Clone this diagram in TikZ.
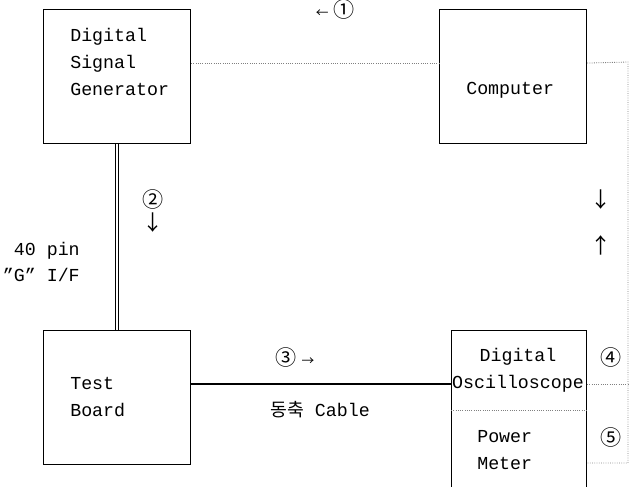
\documentclass[tikz,border=0pt]{standalone}
\usepackage{fontspec}
\setmonofont{Liberation Mono}
\newfontfamily\krfont{Noto Sans CJK KR}
\usetikzlibrary{calc,positioning}
\tikzset{
  unit/.style={draw,line width=0.8pt,minimum width=3.675cm,minimum height=3.35cm,inner sep=0pt,anchor=north west},
  lbl/.style={font=\ttfamily\fontsize{13}{19}\selectfont,inner sep=0pt,anchor=west,align=left},
  sym/.style={font=\krfont\fontsize{15}{16}\selectfont,inner sep=0pt},
  ctrl/.style={densely dotted,gray,line width=0.6pt},
}

\begin{document}
\begin{tikzpicture}[x=0.025cm,y=-0.025cm]
\useasboundingbox (0,0) rectangle (637,486);
% equipment boxes
\node[unit] (dsg) at (43,9) {};
\node[unit] (pc) at (439,9) {};
\node[unit] (tb) at (43,330) {};
\node[unit,minimum width=3.375cm,minimum height=4.5cm] (meas) at (451,330) {};
\draw[ctrl] ($(meas.north west)+(0,80)$) -- ($(meas.north east)+(0,80)$);
% box texts
\node[lbl] (dsgtxt) at (70,62) {Digital\\Signal\\Generator};
\node[lbl] (pctxt) at (466,90) {Computer};
\node[lbl] (tbtxt) at (70,397) {Test\\Board};
\node[lbl,anchor=center,align=center] (osctxt) at (518,370) {Digital\\Oscilloscope};
\node[lbl] (pmtxt) at (477,450) {Power\\Meter};
% cables
\coordinate (dsgout) at ($(dsg.north east)!0.4!(dsg.south east)$);
\coordinate (pcin) at ($(pc.north west)!0.4!(pc.south west)$);
\coordinate (pcout) at ($(pc.north east)!0.4!(pc.south east)$);
\coordinate (tbout) at ($(tb.north east)!0.4!(tb.south east)$);
\coordinate (oscout) at ($(meas.north east)+(0,54)$);
\coordinate (pmout) at ($(meas.north east)+(0,133)$);
\coordinate (bus) at (628,62);
\draw[ctrl] (dsgout) -- (pcin);
\draw[ctrl] (pcout) -- (bus) -- (bus |- pmout) -- (pmout);
\draw[ctrl] (oscout) -- (oscout -| bus);
\draw[double,line width=0.6pt,double distance=1.2pt] (dsg) -- (tb);
\draw[line width=0.9pt] (tbout) -- (tbout -| meas.west);
% labels
\node[lbl,anchor=east,align=right] (pin) at (80,262) {40 pin\\”G” I/F};
\node[lbl] (coax) at (270,410) {{\krfont 동축} Cable};
\node[sym] (n1) at (335,9) {{\small ←} ①};
\node[sym] (n2) at (153,199) {②};
\node[sym] (a2) at (153,223) {↓};
\node[sym] (n3) at (295,357) {③ {\small →}};
\node[sym] (a4dn) at (601,200) {↓};
\node[sym] (a4up) at (601,245) {↑};
\node[sym] (n4) at (611,357) {④};
\node[sym] (n5) at (611,437) {⑤};
\end{tikzpicture}
\end{document}
